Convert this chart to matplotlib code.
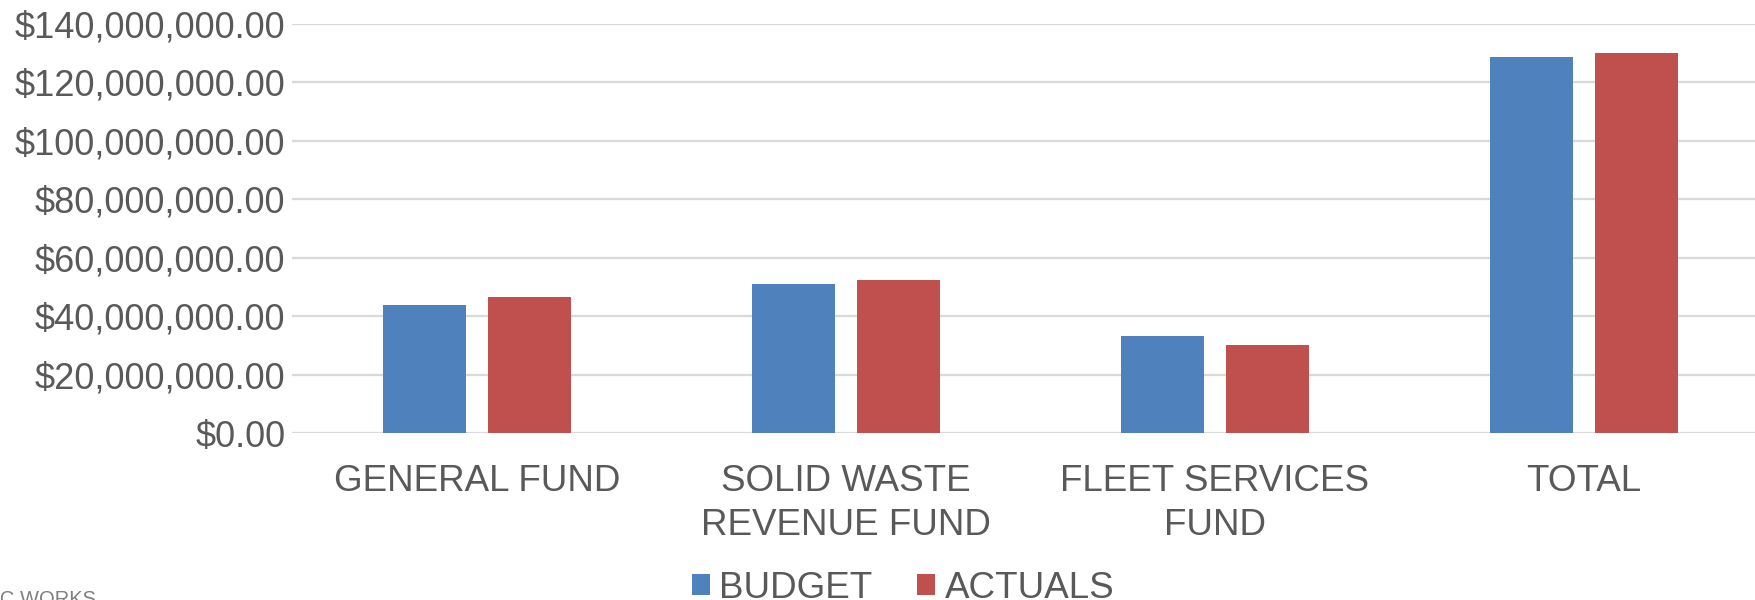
import numpy as np
import matplotlib.pyplot as plt
from matplotlib.ticker import FuncFormatter

categories = ['GENERAL FUND', 'SOLID WASTE\nREVENUE FUND', 'FLEET SERVICES\nFUND', 'TOTAL']
budget = [44.0e6, 50.9e6, 33.3e6, 128.6e6]
actuals = [46.7e6, 52.4e6, 30.3e6, 130.0e6]

blue = '#4F81BD'
red = '#C0504D'
txt = '#595959'

plt.rcParams['font.family'] = ['Liberation Sans', 'DejaVu Sans']

fig = plt.figure(figsize=(17.56, 6.0), dpi=100)
ax = fig.add_axes([292.5 / 1756, 1 - 433.4 / 600, 1476 / 1756, (433.4 - 23.5) / 600])

x = np.arange(len(categories))
w = 0.225
off = 0.143
ax.bar(x - off, budget, w, color=blue, label='BUDGET', zorder=3)
ax.bar(x + off, actuals, w, color=red, label='ACTUALS', zorder=3)

ax.set_xlim(-0.5, 3.5)
ax.set_ylim(0, 140e6)
ax.set_yticks(np.arange(0, 140e6 + 1, 20e6))
ax.yaxis.set_major_formatter(FuncFormatter(lambda v, p: '${:,.2f}'.format(v)))
ax.grid(axis='y', color='#d9d9d9', linewidth=1.6, zorder=0)
ax.set_xticks(x)
ax.set_xticklabels(categories, linespacing=1.32, fontsize=26.5)
ax.tick_params(axis='both', length=0, labelcolor=txt)
ax.tick_params(axis='y', labelsize=26, pad=5)
ax.tick_params(axis='x', pad=22)
for s in ax.spines.values():
    s.set_visible(False)

fig.legend(loc='upper center', bbox_to_anchor=(903 / 1756, 1 - 556 / 600), ncol=2,
           frameon=False, fontsize=26.5, labelcolor=txt, handlelength=0.5, handleheight=0.5,
           handletextpad=0.25, columnspacing=1.2, borderaxespad=0)

fig.text(96 / 1756, 1 - 590 / 600, 'PUBLIC WORKS', ha='right', va='top', fontsize=14.5, color='#808080')

fig.savefig('out.png', dpi=100)
